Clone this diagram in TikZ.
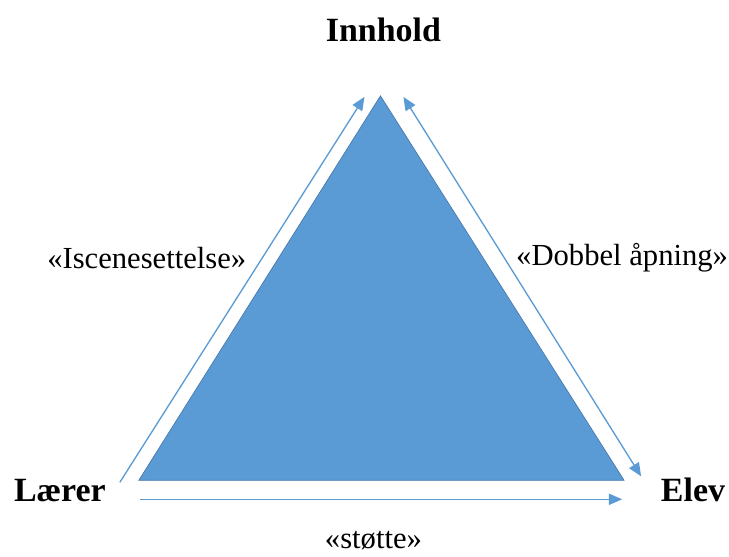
\documentclass[tikz,border=0pt]{standalone}
\usepackage{fontspec}
\setmainfont{Liberation Serif}
\usetikzlibrary{arrows.meta}
\definecolor{triblue}{RGB}{91,155,213}
\definecolor{triedge}{RGB}{70,120,170}
\begin{document}
\begin{tikzpicture}[x=0.75pt,y=0.75pt,yscale=-1,xscale=1]
\tikzset{
  relarrow/.style={draw=triblue, line width=1pt, -{Triangle[length=10pt,width=8.5pt]}},
  corner/.style={font=\fontsize{25.5}{28}\selectfont\bfseries, inner sep=0.75pt},
  relation/.style={font=\fontsize{23}{26}\selectfont, inner sep=0.75pt}
}
\path (0,0) rectangle (729,557);

%Triangle corners
\coordinate (top) at (381,96);
\coordinate (left) at (139,481);
\coordinate (right) at (625,481);
\fill [triblue, draw=triedge, line width=0.5pt] (top) -- (left) -- (right) -- cycle;

%Arrow ends
\coordinate (lstart) at (120,483);
\coordinate (lend) at (365,97);
\coordinate (rstart) at (404,97);
\coordinate (rend) at (642,477);
\coordinate (bstart) at (140,500);
\coordinate (bend) at (623,500);

\draw [relarrow] (lstart) -- (lend);
\draw [relarrow, {Triangle[length=10pt,width=8.5pt]}-{Triangle[length=10pt,width=8.5pt]}] (rstart) -- (rend);
\draw [relarrow] (bstart) -- (bend);

% Text Nodes
\node [corner] (innhold) at (384,30) {Innhold};
\node [corner] (laerer) at (60,491) {Lærer};
\node [corner] (elev) at (694,491) {Elev};
\node [relation] (iscene) at (147,258) {«Iscenesettelse»};
\node [relation] (dobbel) at (623,258) {«Dobbel åpning»};
\node [relation] (stotte) at (374,541) {«støtte»};

\end{tikzpicture}
\end{document}
